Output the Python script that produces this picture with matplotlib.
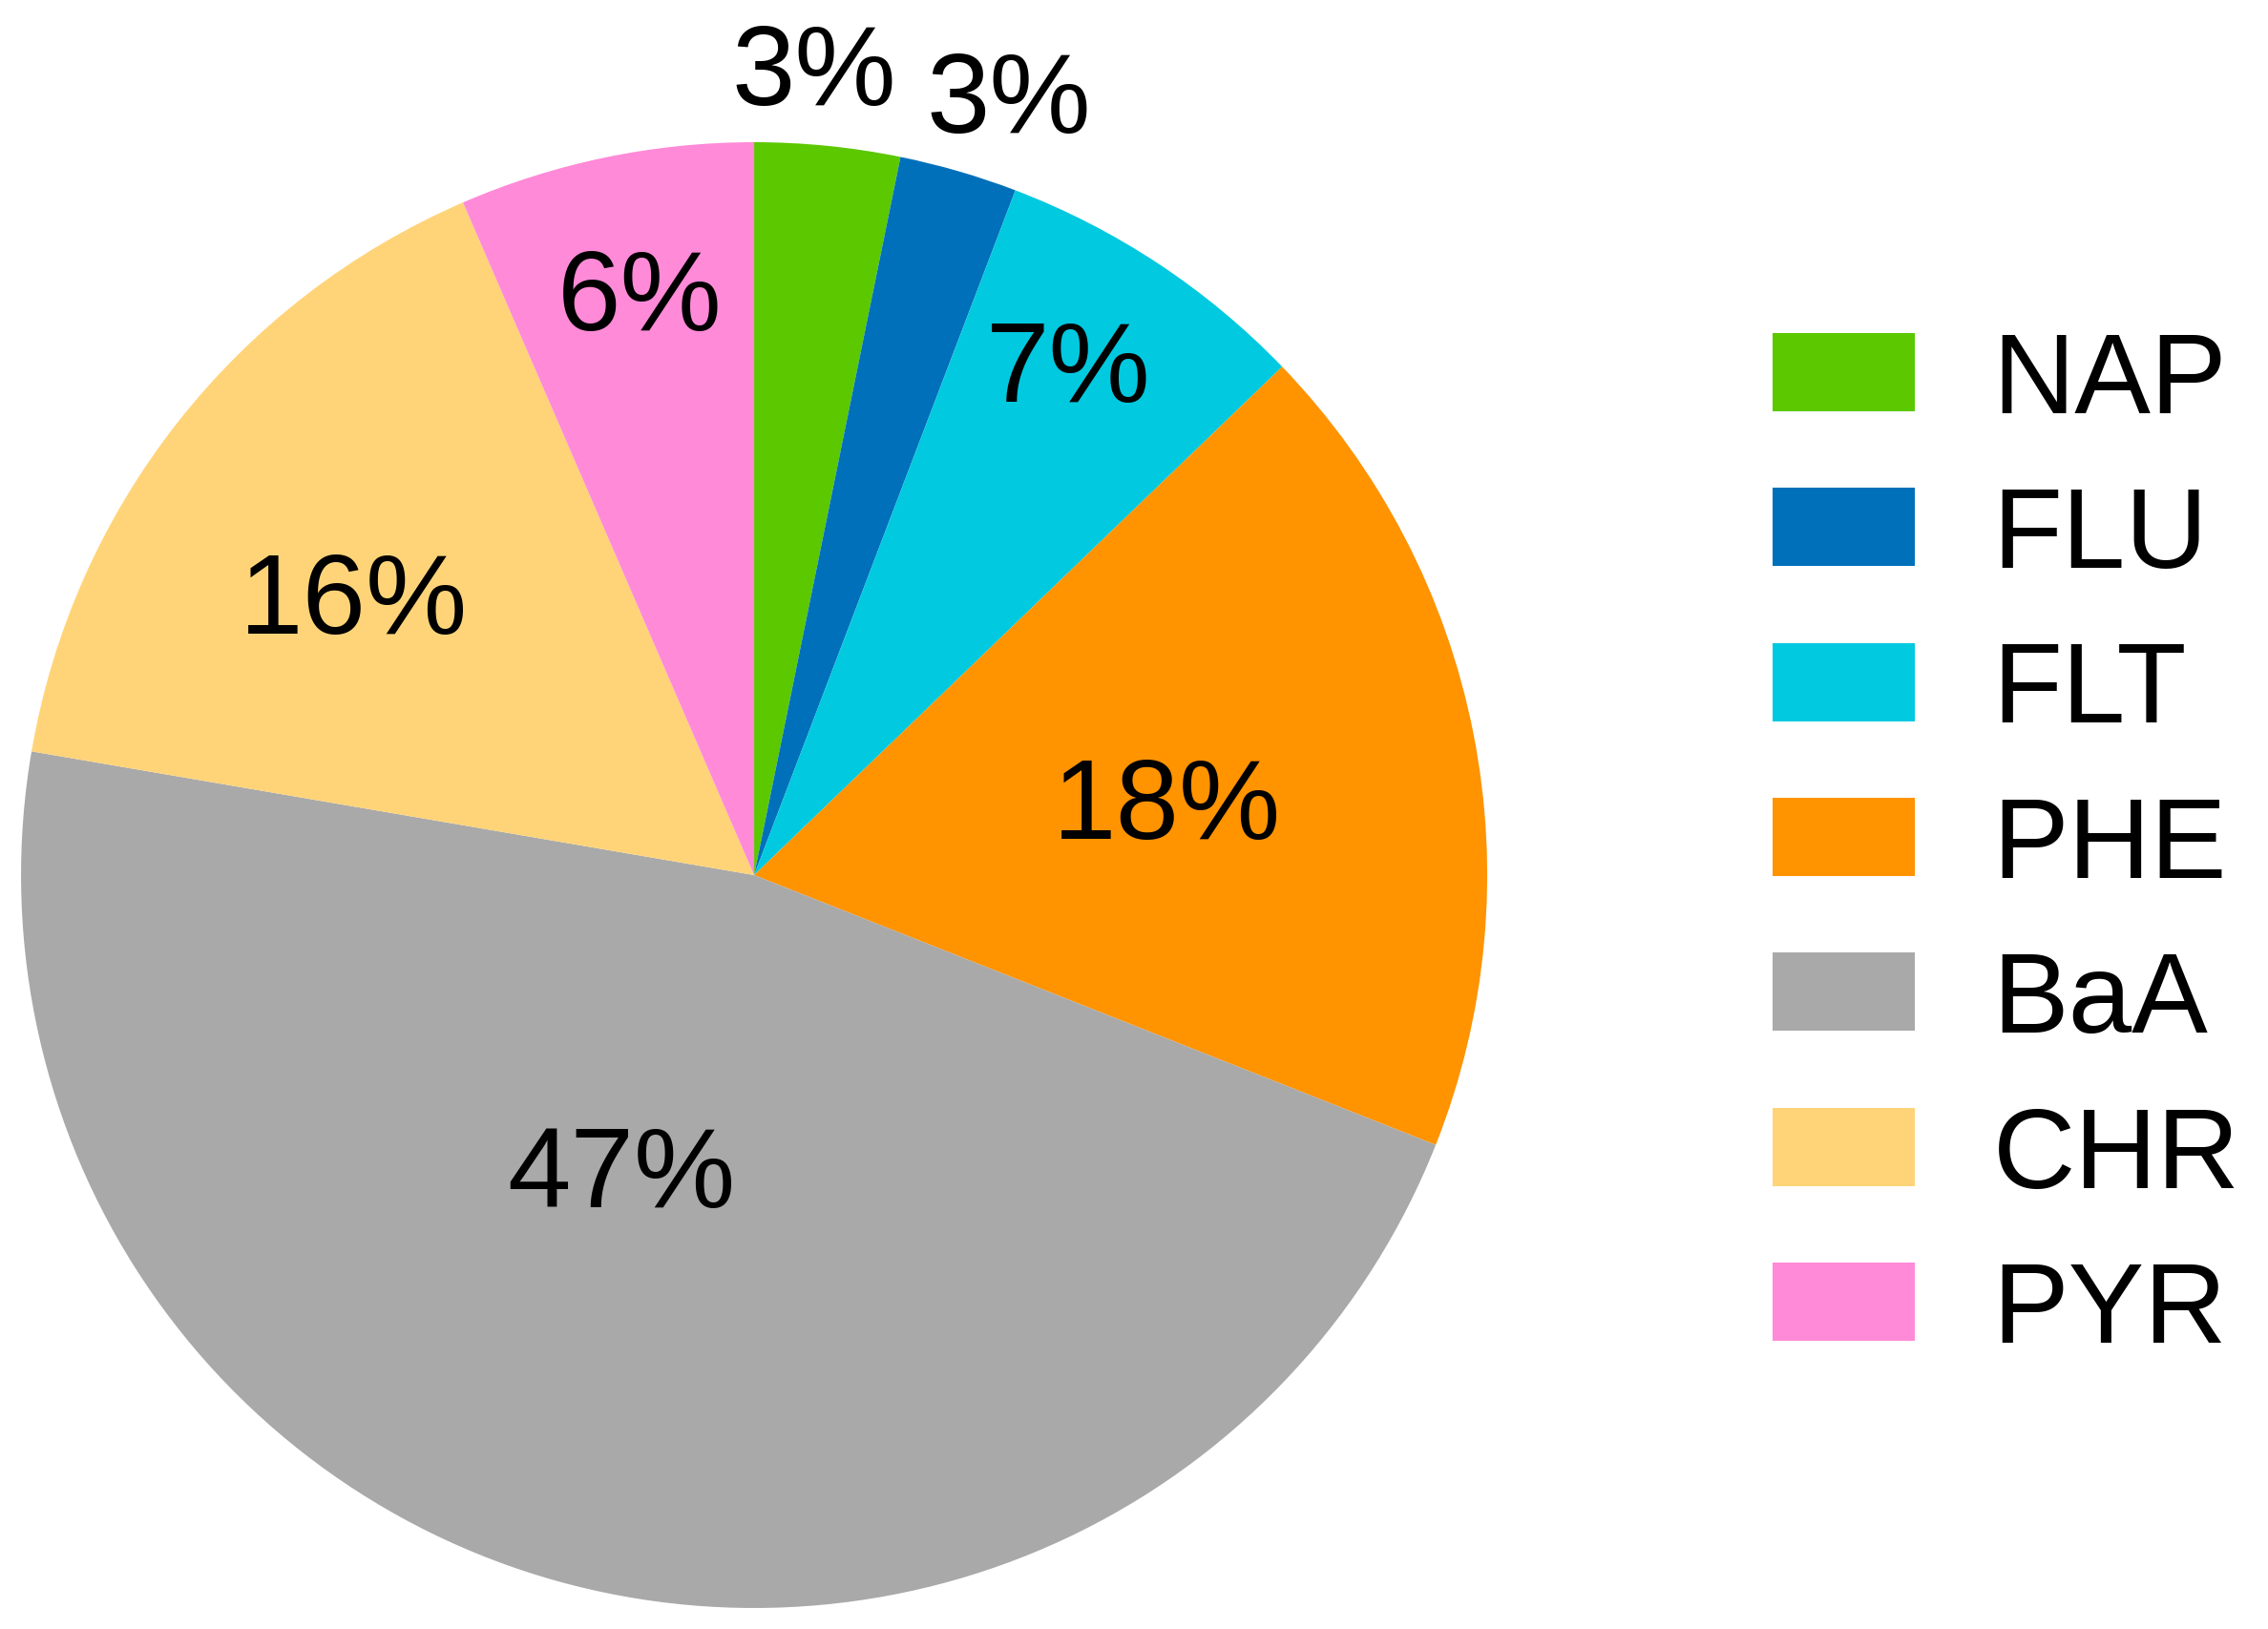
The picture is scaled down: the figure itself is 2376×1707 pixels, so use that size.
import numpy as np
import matplotlib.pyplot as plt

plt.rcParams['font.family'] = ['Liberation Sans', 'DejaVu Sans']

# PAH composition (%)
compounds = ['NAP', 'FLU', 'FLT', 'PHE', 'BaA', 'CHR', 'PYR']
shares = [3.2, 2.6, 7.0, 18.2, 46.7, 15.8, 6.5]
pct_labels = ['3%', '3%', '7%', '18%', '47%', '16%', '6%']
colors = ['#5cc800', '#0070bb', '#00c9e0', '#ff9300', '#a9a9a9', '#ffd479', '#ff8ad8']

# label placement (radius, angular nudge in degrees)
label_r = [1.095, 1.11, 0.81, 0.57, 0.45, 0.66, 0.80]
label_dang = [1.5, -2.0, 1.5, -2.0, -8.0, 4.0, -0.5]

fig = plt.figure(figsize=(23.76, 17.08), dpi=100)
ax = fig.add_axes([0.00926, 0.01288, 0.6465, 0.8993])

wedges, _ = ax.pie(shares, colors=colors, startangle=90, counterclock=False,
                   radius=1.0, wedgeprops=dict(linewidth=0))

for w, txt, r, da in zip(wedges, pct_labels, label_r, label_dang):
    ang = np.deg2rad((w.theta1 + w.theta2) / 2.0 + da)
    ax.text(r * np.cos(ang), r * np.sin(ang), txt, ha='center',
            va='center', fontsize=86, color='black')

ax.set_xlim(-1, 1)
ax.set_ylim(-1, 1)
ax.axis('off')

fig.legend(wedges, compounds, loc='upper left', bbox_to_anchor=(0.7816, 0.797),
           frameon=False, fontsize=86, borderpad=0, borderaxespad=0,
           handlelength=1.25, handleheight=0.68, handletextpad=0.68,
           labelspacing=0.43)

fig.savefig('out.png', dpi=100, facecolor='white')
